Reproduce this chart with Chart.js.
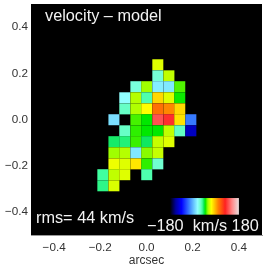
<!DOCTYPE html>
<html>
<head>
<meta charset="utf-8">
<style>
html, body { margin: 0; padding: 0; background: #fff; }
canvas { display: block; }
</style>
<script src="https://cdn.jsdelivr.net/npm/chart.js@4/dist/chart.umd.min.js"></script>
</head>
<body>
<canvas id="velmap" width="266" height="268"></canvas>
<script>
// cell centres in arcsec
var xCells = [-0.189, -0.141, -0.094, -0.046, 0.001, 0.049, 0.097, 0.144, 0.192, 0.239];
var yCells = [0.237, 0.189, 0.142, 0.094, 0.046, -0.001, -0.049, -0.096, -0.144, -0.192, -0.239, -0.287];
var cellSize = 0.0476;

// residual velocity in km/s, null = no data
var velocity = [
  [null, null, null, null, null, 30, null, null, null, null],
  [null, null, null, null, null, -24, 24, null, null, null],
  [null, null, null, -26, 18, -42, -44, 11, null, null],
  [null, null, -36, 22, -15, 47, 30, 5, null, null],
  [null, null, -20, 21, 36, 78, 70, 47, null, null],
  [null, -47, null, 10, 4, 125, 113, 44, -82, null],
  [null, null, -20, 8, 4, 4, 24, -19, -140, null],
  [null, -5, -7, 9, -4, 25, 30, null, null, null],
  [null, 18, 22, -44, 16, 25, null, null, null, null],
  [null, 33, 30, 43, 8, -22, null, null, null, null],
  [-12, 24, 30, null, -15, null, null, null, null, null],
  [-9, 29, null, null, null, null, null, null, null, null]
];

var colorValues = [-180, -150, -120, -80, -44, -36, -22, -12, -4, 4, 18, 36, 72, 108, 144, 180];
var colorStops = ["#000000", "#0000a0", "#0000ff", "#3a80ff", "#80e8ff", "#90ffff", "#70ffd0", "#40ffa0",
  "#10e860", "#00e800", "#a0ff00", "#ffff00", "#ff8000", "#ff2020", "#ff8888", "#e8e0e0"];

var tickValues = [-0.4, -0.2, 0, 0.2, 0.4];

function hexToRgb(h) {
  return [parseInt(h.substr(1, 2), 16), parseInt(h.substr(3, 2), 16), parseInt(h.substr(5, 2), 16)];
}

function velColor(v) {
  for (var i = 1; i < colorValues.length; i++) {
    if (v <= colorValues[i]) {
      var t = (v - colorValues[i - 1]) / (colorValues[i] - colorValues[i - 1]);
      var a = hexToRgb(colorStops[i - 1]), b = hexToRgb(colorStops[i]);
      return "rgb(" + Math.round(a[0] + (b[0] - a[0]) * t) + "," + Math.round(a[1] + (b[1] - a[1]) * t) + "," + Math.round(a[2] + (b[2] - a[2]) * t) + ")";
    }
  }
  return colorStops[colorStops.length - 1];
}

var points = [];
velocity.forEach(function (row, j) {
  row.forEach(function (v, i) {
    if (v !== null) points.push({ x: xCells[i], y: yCells[j], v: v });
  });
});

function tickText(value) {
  return value.toFixed(1).replace("-", "\u2212");
}

var panelPlugin = {
  id: "panel",
  beforeDatasetsDraw: function (chart) {
    var a = chart.chartArea, c = chart.ctx;
    c.save();
    c.fillStyle = "#000";
    c.fillRect(a.left, a.top, a.right - a.left, a.bottom - a.top);
    c.restore();
  },
  afterDatasetsDraw: function (chart) {
    var c = chart.ctx, sx = chart.scales.x, sy = chart.scales.y;
    var x0 = sx.getPixelForValue(0.102), x1 = sx.getPixelForValue(0.4);
    var y0 = sy.getPixelForValue(-0.34), y1 = sy.getPixelForValue(-0.412);
    var g = c.createLinearGradient(x0, 0, x1, 0);
    colorValues.forEach(function (v, i) {
      g.addColorStop((v + 180) / 360, colorStops[i]);
    });
    c.save();
    c.fillStyle = g;
    c.fillRect(x0, y0, x1 - x0, y1 - y0);
    c.fillStyle = "#f2f2f2";
    c.textBaseline = "alphabetic";
    c.font = '16.3px "Liberation Sans"';
    c.fillText("velocity \u2013 model", 45, 21);
    c.fillText("rms= 44 km/s", 36, 223);
    c.fillText("\u2212180  km/s 180", 147, 231);
    c.restore();
  }
};

new Chart(document.getElementById("velmap"), {
  type: "scatter",
  data: {
    datasets: [{
      data: points,
      pointStyle: "rect",
      borderWidth: 0,
      backgroundColor: function (ctx) {
        return ctx.raw ? velColor(ctx.raw.v) : "#000";
      },
      pointRadius: function (ctx) {
        var s = ctx.chart.scales.x;
        return Math.abs(s.getPixelForValue(cellSize) - s.getPixelForValue(0)) / Math.SQRT2;
      }
    }]
  },
  options: {
    responsive: false,
    animation: false,
    layout: { padding: { top: 4, right: 4, left: 0, bottom: 0 } },
    plugins: { legend: { display: false }, tooltip: { enabled: false } },
    scales: {
      x: {
        type: "linear",
        min: -0.5,
        max: 0.5,
        afterBuildTicks: function (s) { s.ticks = tickValues.map(function (v) { return { value: v }; }); },
        afterFit: function (s) { s.height = 33; s.paddingLeft = 0; s.paddingRight = 0; },
        grid: { display: false, drawTicks: false },
        border: { color: "#999", width: 1 },
        ticks: {
          color: "#333",
          padding: 6,
          maxRotation: 0,
          font: { family: "Liberation Sans", size: 11.7 },
          callback: tickText
        },
        title: {
          display: true,
          text: "arcsec",
          color: "#333",
          padding: { top: 1, bottom: 0 },
          font: { family: "Liberation Sans", size: 12 }
        }
      },
      y: {
        type: "linear",
        min: -0.5,
        max: 0.5,
        afterBuildTicks: function (s) { s.ticks = tickValues.map(function (v) { return { value: v }; }); },
        afterFit: function (s) { s.width = 31; s.paddingTop = 0; s.paddingBottom = 0; },
        grid: { display: false, drawTicks: false },
        border: { color: "#999", width: 1 },
        ticks: {
          color: "#333",
          padding: 3,
          font: { family: "Liberation Sans", size: 11.7 },
          callback: tickText
        }
      }
    }
  },
  plugins: [panelPlugin]
});
</script>
</body>
</html>
